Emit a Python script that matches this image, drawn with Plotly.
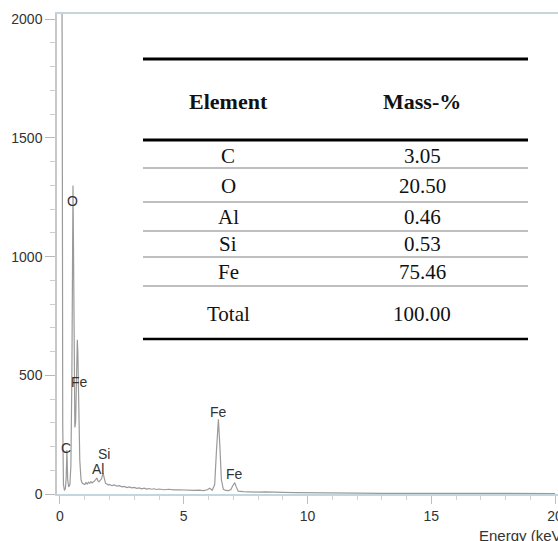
import plotly.graph_objects as go

# ---- Spectrum data ----
energy_kev = [-0.11, -0.06, 0.00, 0.06, 0.09, 0.11, 0.14, 0.18, 0.22, 0.25, 0.28, 0.31, 0.35, 0.40,
              0.44, 0.48, 0.51, 0.525, 0.545, 0.57, 0.60, 0.63, 0.67, 0.70, 0.72, 0.76, 0.80, 0.85,
              0.90, 1.00, 1.05, 1.10, 1.15, 1.20, 1.25, 1.30, 1.35, 1.40, 1.45, 1.49, 1.53, 1.58,
              1.63, 1.68, 1.74, 1.79, 1.84, 1.90, 1.95, 2.00, 2.10, 2.20, 2.30, 2.40, 2.50, 2.60,
              2.70, 2.80, 2.90, 3.00, 3.10, 3.20, 3.30, 3.40, 3.50, 3.60, 3.70, 3.80, 3.90, 4.00,
              4.20, 4.40, 4.60, 4.80, 5.00, 5.20, 5.40, 5.60, 5.80, 5.95, 6.05, 6.15, 6.25, 6.32,
              6.40, 6.46, 6.52, 6.60, 6.70, 6.80, 6.90, 6.98, 7.06, 7.12, 7.20, 7.40, 7.60, 7.80,
              8.00, 8.30, 8.60, 9.00, 9.50, 10.0, 11.0, 12.0, 13.0, 14.0, 15.0, 16.0, 17.0, 18.0,
              19.0, 20.0]
counts = [2600, 2700, 2700, 2600, 1800, 300, 40, 15, 25, 70, 185, 60, 30, 40,
          120, 500, 1100, 1300, 1050, 550, 280, 300, 520, 650, 600, 350, 140, 60,
          45, 40, 48, 42, 50, 45, 52, 47, 50, 55, 62, 68, 55, 52,
          58, 65, 88, 62, 45, 42, 38, 40, 35, 38, 33, 35, 30, 32,
          27, 30, 26, 28, 24, 26, 22, 25, 21, 23, 20, 22, 19, 21,
          18, 20, 17, 18, 16, 17, 15, 16, 14, 18, 24, 16, 40, 180,
          315, 200, 60, 20, 15, 14, 18, 35, 48, 30, 12, 10, 9, 10,
          8, 9, 7, 7, 6, 5, 4, 4, 3, 3, 3, 2, 2, 2,
          2, 2]

# ---- Peak labels ----
peak_labels = ["O", "Fe", "C", "Si", "Al", "Fe", "Fe"]
peak_label_x = [0.525, 0.77, 0.24, 1.78, 1.54, 6.42, 7.07]
peak_label_y = [1234, 472, 194, 168, 105, 345, 84]

# ---- Table data ----
elements = ["C", "O", "Al", "Si", "Fe"]
mass_pct = ["3.05", "20.50", "0.46", "0.53", "75.46"]
total_label = "Total"
total_value = "100.00"
header = ["Element", "Mass-%"]

x_ticks = [0, 5, 10, 15, 20]
y_ticks = [0, 500, 1000, 1500, 2000]

W, H = 558, 541
ML, MR, MT, MB = 57, 0, 14, 47
PW, PH = W - ML - MR, H - MT - MB


def px_x(p):
    return (p - ML) / PW


def px_y(p):
    return (H - MB - p) / PH


fig = go.Figure()
fig.add_trace(go.Scatter(x=energy_kev, y=counts, mode="lines",
                         line=dict(color="#9a9a9a", width=1.2), hoverinfo="skip",
                         showlegend=False))

sans = "Liberation Sans, Arial"
serif = "Liberation Serif, Times New Roman, serif"
annotations = []
for t, x, y in zip(peak_labels, peak_label_x, peak_label_y):
    annotations.append(dict(x=x, y=y, xref="x", yref="y", text=t, showarrow=False,
                            xanchor="center", yanchor="middle",
                            font=dict(family=sans, size=14, color="#333333")))


def cell(px, py, text, size):
    return dict(x=px_x(px), y=px_y(py), xref="paper", yref="paper", text=text,
                xanchor="center", yanchor="middle", showarrow=False,
                font=dict(family=serif, size=size, color="#111111"))


col_x = [228, 422]
for cx, h in zip(col_x, header):
    annotations.append(cell(cx, 101, "<b>%s</b>" % h, 22))
row_y = [156, 186, 217, 244, 272]
for ry, e, m in zip(row_y, elements, mass_pct):
    annotations.append(cell(col_x[0], ry, e, 21))
    annotations.append(cell(col_x[1], ry, m, 21))
annotations.append(cell(col_x[0], 314, total_label, 21))
annotations.append(cell(col_x[1], 314, total_value, 21))

# axis title
annotations.append(dict(x=px_x(477), y=px_y(535), xref="paper", yref="paper", text="Energy (keV)",
                        xanchor="left", yanchor="middle", showarrow=False,
                        font=dict(family=sans, size=15, color="#333333")))

shapes = []
line_specs = [(59, 3, "#000000"), (140, 3, "#000000"), (168, 1.2, "#808080"), (202, 1.2, "#808080"),
              (231, 1.2, "#808080"), (257, 1.2, "#808080"), (286, 1.2, "#808080"), (339, 2.5, "#000000")]
for ly, lw, lc in line_specs:
    shapes.append(dict(type="line", xref="paper", yref="paper", x0=px_x(143), x1=px_x(528),
                       y0=px_y(ly), y1=px_y(ly), line=dict(color=lc, width=lw)))

fig.update_layout(
    width=W, height=H,
    margin=dict(l=ML, r=MR, t=MT, b=MB, autoexpand=False),
    paper_bgcolor="white", plot_bgcolor="white",
    annotations=annotations, shapes=shapes,
    xaxis=dict(range=[-0.121, 20.12], tickvals=x_ticks, ticks="outside", ticklen=8,
               tickcolor="#b0c4cc", showgrid=False, zeroline=False, showline=True,
               linecolor="#c2d6dc", linewidth=2, mirror=True, automargin=False,
               ticklabeloverflow="allow",
               tickfont=dict(family=sans, size=14, color="#333333"),
               minor=dict(dtick=1, ticks="outside", ticklen=4, tickcolor="#c8d4d8")),
    yaxis=dict(range=[0, 2022], tickvals=y_ticks, ticks="outside", ticklen=10,
               tickcolor="#b8b8b8", showgrid=False, zeroline=False, showline=True,
               linecolor="#c8c8c8", linewidth=1.5, automargin=False,
               tickfont=dict(family=sans, size=14, color="#333333"),
               minor=dict(dtick=100, ticks="outside", ticklen=5, tickcolor="#cccccc")),
)

fig.write_html("out.html", config={"displayModeBar": False},
               post_script="document.body.style.margin='0';document.body.style.overflow='hidden';")
